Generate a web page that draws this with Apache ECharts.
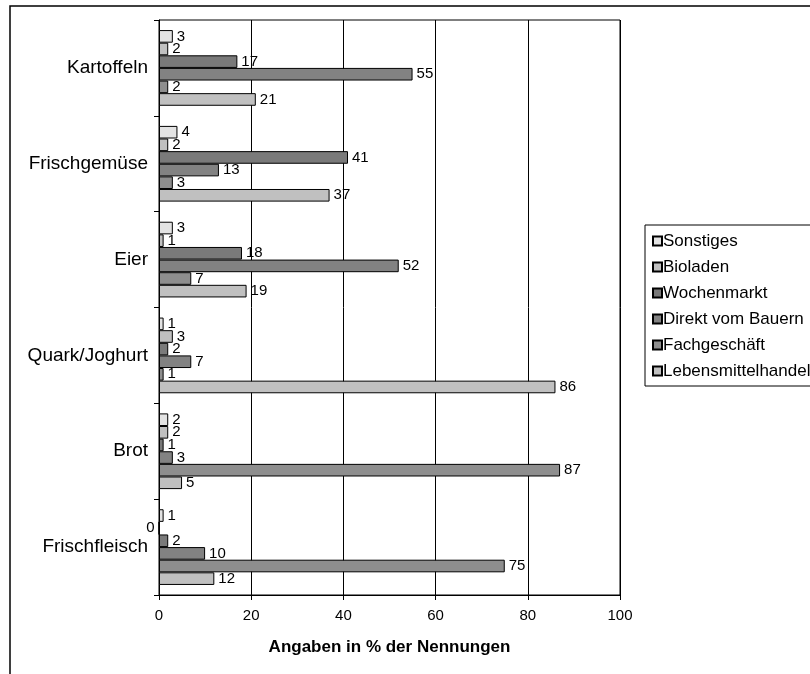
<!DOCTYPE html>
<html>
<head>
<meta charset="utf-8">
<script src="https://cdn.jsdelivr.net/npm/echarts@6/dist/echarts.min.js"></script>
<style>
  html, body { margin: 0; padding: 0; background: #fff; }
  #chart { width: 810px; height: 674px; }
</style>
</head>
<body>
<div id="chart"></div>
<script>
// Products (top to bottom)
const categories = ['Kartoffeln', 'Frischgemüse', 'Eier', 'Quark/Joghurt', 'Brot', 'Frischfleisch'];

// Where each product is bought, share of mentions in %
const sonstiges          = [3, 4, 3, 1, 2, 1];
const bioladen           = [2, 2, 1, 3, 2, 0];
const wochenmarkt        = [17, 41, 18, 2, 1, 2];
const direktVomBauern    = [55, 13, 52, 7, 3, 10];
const fachgeschaeft      = [2, 3, 7, 1, 87, 75];
const lebensmittelhandel = [21, 37, 19, 86, 5, 12];

const xTicks = [0, 20, 40, 60, 80, 100];

const seriesDefs = [
  { name: 'Sonstiges', values: sonstiges, color: '#e3e3e3' },
  { name: 'Bioladen', values: bioladen, color: '#c0c0c0' },
  { name: 'Wochenmarkt', values: wochenmarkt, color: '#7a7a7a' },
  { name: 'Direkt vom Bauern', values: direktVomBauern, color: '#828282' },
  { name: 'Fachgeschäft', values: fachgeschaeft, color: '#8e8e8e' },
  { name: 'Lebensmittelhandel', values: lebensmittelhandel, color: '#c0c0c0' }
];

const font = 'Arial, "Liberation Sans", sans-serif';

const chart = echarts.init(document.getElementById('chart'), null, { renderer: 'canvas' });

chart.setOption({
  animation: false,
  backgroundColor: '#fff',
  graphic: [{
    type: 'rect',
    shape: { x: 10, y: 6, width: 1000, height: 1000 },
    style: { fill: 'none', stroke: '#000', lineWidth: 1.5 },
    silent: true,
    z: -1
  }],
  grid: {
    left: 159, right: 190, top: 20, bottom: 79,
    show: true, borderColor: '#000', borderWidth: 1, backgroundColor: 'transparent'
  },
  legend: {
    orient: 'vertical',
    left: 645, top: 225,
    itemWidth: 9, itemHeight: 9, itemGap: 6,
    icon: 'rect',
    padding: [6, 6, 5, 7],
    borderColor: '#000', borderWidth: 1,
    textStyle: { fontFamily: font, fontSize: 17, lineHeight: 20, color: '#000', padding: [0, 0, 0, -4] },
    data: seriesDefs.map(s => s.name)
  },
  xAxis: {
    type: 'value',
    min: xTicks[0], max: xTicks[xTicks.length - 1], interval: 20,
    name: 'Angaben in % der Nennungen',
    nameLocation: 'middle', nameGap: 44,
    nameTextStyle: { fontFamily: font, fontSize: 17, fontWeight: 'bold', color: '#000' },
    axisLine: { show: true, lineStyle: { color: '#000', width: 1 } },
    axisTick: { show: true, length: 5, lineStyle: { color: '#000' } },
    axisLabel: { fontFamily: font, fontSize: 15, color: '#000', margin: 13 },
    splitLine: { show: true, lineStyle: { color: '#000', width: 1 } }
  },
  yAxis: {
    type: 'category',
    inverse: true,
    data: categories,
    axisLine: { show: true, lineStyle: { color: '#000', width: 1 } },
    axisTick: { show: true, length: 5, lineStyle: { color: '#000' } },
    axisLabel: { fontFamily: font, fontSize: 19, color: '#000', margin: 11 },
    splitLine: { show: false }
  },
  series: seriesDefs.map(s => ({
    name: s.name,
    type: 'bar',
    barGap: '0%',
    barCategoryGap: '21%',
    itemStyle: { color: s.color, borderColor: '#000', borderWidth: 1 },
    label: {
      show: true, position: 'right', distance: 4,
      fontFamily: font, fontSize: 15, color: '#000'
    },
    data: s.values.map(v => v === 0
      ? { value: v, label: { position: 'left', distance: 4 } }
      : v)
  }))
});
</script>
</body>
</html>
